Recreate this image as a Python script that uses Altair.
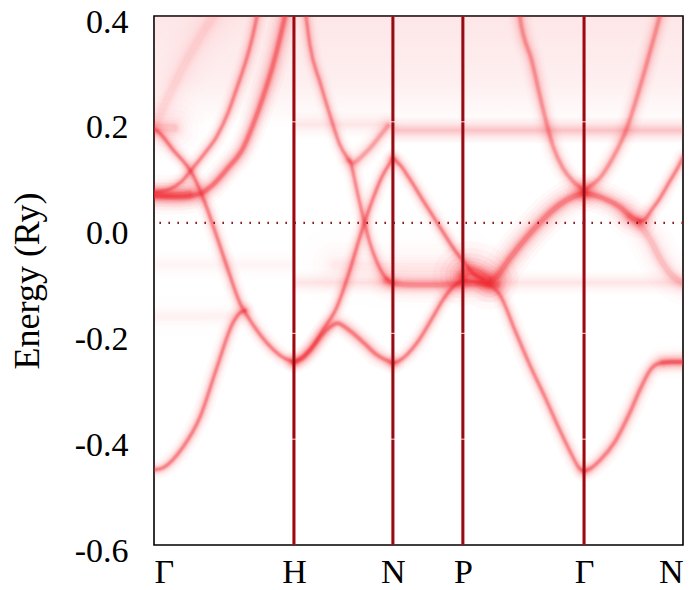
import altair as alt
import pandas as pd

# ---- path through the bcc Brillouin zone (k in units of 2*pi/a) ----
sym_names = ["Γ", "H", "N", "P", "Γ", "N"]
sym_k = [0.0, 1.0, 1.7071, 2.2071, 3.0731, 3.7802]

energy_ticks = [-0.6, -0.4, -0.2, 0.0, 0.2, 0.4]
e_fermi = 0.009

# ---- ridges of the Bloch spectral function: k points and energies (Ry) ----
# Gamma-H
gh_low_k = [0.0, 0.064, 0.207, 0.329, 0.45, 0.564, 0.614, 0.65]
gh_low_e = [-0.458, -0.454, -0.415, -0.358, -0.264, -0.180, -0.161, -0.157]
gh_down_k = [0.0, 0.021, 0.136, 0.279, 0.364, 0.45, 0.529, 0.614, 0.686, 0.807, 0.921, 1.0]
gh_down_e = [0.186, 0.183, 0.147, 0.099, 0.047, -0.018, -0.080, -0.1425, -0.175, -0.218, -0.245, -0.254]
gh_outer_k = [0.0, 0.114, 0.200, 0.279, 0.364, 0.450, 0.529, 0.600, 0.664, 0.707, 0.736, 0.76]
gh_outer_e = [0.067, 0.073, 0.088, 0.113, 0.141, 0.173, 0.217, 0.270, 0.321, 0.364, 0.400, 0.43]
gh_inner_k = [0.0, 0.186, 0.329, 0.421, 0.529, 0.636, 0.707, 0.779, 0.850, 0.900, 0.936, 0.96]
gh_inner_e = [0.060, 0.058, 0.064, 0.081, 0.113, 0.150, 0.194, 0.247, 0.307, 0.358, 0.400, 0.43]
gh_flat_k = [0.0, 0.12, 0.25]
gh_flat_e = [0.063, 0.062, 0.064]
gh_faint_k = [0.0, 0.08, 0.20, 0.33, 0.45]
gh_faint_e = [0.19, 0.235, 0.30, 0.36, 0.41]

# H-N
hn_bump_k = [1.0, 1.057, 1.114, 1.2, 1.257, 1.31, 1.4, 1.5, 1.59, 1.7071]
hn_bump_e = [-0.254, -0.248, -0.233, -0.203, -0.188, -0.181, -0.195, -0.218, -0.240, -0.256]
hn_up_k = [1.0, 1.079, 1.15, 1.207, 1.307, 1.4, 1.471, 1.543, 1.629, 1.7071]
hn_up_e = [-0.254, -0.240, -0.218, -0.194, -0.150, -0.080, -0.018, 0.039, 0.096, 0.130]
hn_desc_k = [1.07, 1.086, 1.114, 1.186, 1.257, 1.329, 1.386, 1.407, 1.43, 1.457, 1.50, 1.543, 1.593, 1.65, 1.7071]
hn_desc_e = [0.43, 0.40, 0.345, 0.275, 0.213, 0.156, 0.130, 0.122, 0.095, 0.062, 0.014, -0.029, -0.065, -0.093, -0.105]
hn_cup_k = [1.395, 1.42, 1.45, 1.49, 1.543, 1.614, 1.671]
hn_cup_e = [0.126, 0.122, 0.126, 0.136, 0.150, 0.173, 0.192]

# N-P
np_up_k = [1.7071, 1.75, 1.879, 1.993, 2.064, 2.136, 2.2071]
np_up_e = [-0.256, -0.252, -0.218, -0.169, -0.137, -0.112, -0.100]
np_down_k = [1.7071, 1.76, 1.82, 1.921, 2.043, 2.164, 2.2071, 2.279, 2.35]
np_down_e = [0.130, 0.118, 0.095, 0.052, 0.001, -0.048, -0.062, -0.086, -0.098]
np_flat_k = [1.66, 1.7071, 1.85, 2.0, 2.2071, 2.33, 2.45]
np_flat_e = [-0.100, -0.105, -0.108, -0.108, -0.106, -0.106, -0.108]
p_blob_k = [2.2071, 2.26, 2.32, 2.39]
p_blob_e = [-0.090, -0.082, -0.086, -0.098]

# P-Gamma
pg_down_k = [2.2071, 2.33, 2.42, 2.471, 2.579, 2.686, 2.793, 2.9, 2.986, 3.04, 3.0731]
pg_down_e = [-0.100, -0.104, -0.112, -0.127, -0.194, -0.260, -0.320, -0.383, -0.430, -0.455, -0.460]
pg_thick_k = [2.40, 2.45, 2.543, 2.664, 2.757, 2.85, 2.93, 2.993, 3.0731]
pg_thick_e = [-0.104, -0.092, -0.058, -0.018, 0.009, 0.033, 0.049, 0.058, 0.065]
pg_arm_k = [2.60, 2.614, 2.70, 2.779, 2.85, 2.921, 2.993, 3.0731]
pg_arm_e = [0.43, 0.40, 0.315, 0.225, 0.155, 0.113, 0.088, 0.071]

# Gamma-N
gn_up_k = [3.0731, 3.12, 3.186, 3.293, 3.40, 3.48, 3.55, 3.62, 3.70, 3.7802]
gn_up_e = [-0.460, -0.455, -0.440, -0.405, -0.350, -0.302, -0.268, -0.256, -0.254, -0.254]
gn_shoulder_k = [3.64, 3.70, 3.7802]
gn_shoulder_e = [-0.255, -0.254, -0.254]
gn_thick_k = [3.0731, 3.15, 3.207, 3.329, 3.421, 3.47]
gn_thick_e = [0.065, 0.061, 0.056, 0.039, 0.018, 0.012]
gn_rise_k = [3.47, 3.50, 3.56, 3.614, 3.68, 3.74, 3.7802]
gn_rise_e = [0.012, 0.014, 0.035, 0.055, 0.085, 0.112, 0.132]
gn_faint_k = [3.40, 3.47, 3.55, 3.614, 3.70, 3.7802]
gn_faint_e = [0.020, 0.005, -0.025, -0.058, -0.090, -0.105]
gn_arm_k = [3.0731, 3.15, 3.186, 3.279, 3.379, 3.471, 3.564, 3.614, 3.64]
gn_arm_e = [0.071, 0.085, 0.094, 0.132, 0.188, 0.264, 0.351, 0.400, 0.43]

# ---- short smeared features ----
flat_g_k = [0.0, 0.14]
flat_g_e = [0.19, 0.188]
gh_haze2_k = [0.0, 0.3, 0.55]
gh_haze2_e = [-0.168, -0.168, -0.166]
hp_haze_k = [1.3, 1.75, 2.2071]
hp_haze_e = [-0.072, -0.075, -0.075]

# ---- flat incoherent bands between symmetry lines: k range, energy range, weight ----
slab_k1 = [1.0, 1.7071, 1.0, 0.0]
slab_k2 = [1.7071, 3.7802, 3.7802, 1.0]
slab_e1 = [0.168, 0.158, -0.128, -0.10]
slab_e2 = [0.222, 0.210, -0.080, -0.04]
slab_w = [0.12, 0.30, 0.13, 0.05]

# upper-energy background
top_k1, top_k2, top_e1, top_e2, top_w = [0.0], [3.7802], [0.19], [0.40], [0.12]

ridges = {
    "gh_low": (gh_low_k, gh_low_e), "gh_down": (gh_down_k, gh_down_e),
    "gh_outer": (gh_outer_k, gh_outer_e), "gh_inner": (gh_inner_k, gh_inner_e),
    "gh_flat": (gh_flat_k, gh_flat_e), "gh_faint": (gh_faint_k, gh_faint_e),
    "hn_bump": (hn_bump_k, hn_bump_e), "hn_up": (hn_up_k, hn_up_e),
    "hn_desc": (hn_desc_k, hn_desc_e), "hn_cup": (hn_cup_k, hn_cup_e),
    "np_up": (np_up_k, np_up_e), "np_down": (np_down_k, np_down_e),
    "np_flat": (np_flat_k, np_flat_e), "p_blob": (p_blob_k, p_blob_e),
    "pg_down": (pg_down_k, pg_down_e), "pg_thick": (pg_thick_k, pg_thick_e),
    "pg_arm": (pg_arm_k, pg_arm_e),
    "gn_up": (gn_up_k, gn_up_e), "gn_shoulder": (gn_shoulder_k, gn_shoulder_e),
    "gn_thick": (gn_thick_k, gn_thick_e),
    "gn_rise": (gn_rise_k, gn_rise_e), "gn_faint": (gn_faint_k, gn_faint_e),
    "gn_arm": (gn_arm_k, gn_arm_e),
    "flat_g": (flat_g_k, flat_g_e), "gh_haze2": (gh_haze2_k, gh_haze2_e),
    "hp_haze": (hp_haze_k, hp_haze_e),
}

# drawing style per ridge: (intensity, broadening)
ridge_style = {
    "gh_low": (0.8, 1.0), "gh_down": (0.8, 1.0), "gh_outer": (0.75, 1.0),
    "gh_inner": (0.95, 1.4), "gh_flat": (0.8, 2.0), "gh_faint": (0.15, 3.0),
    "hn_bump": (0.85, 1.15), "hn_up": (0.8, 1.0), "hn_desc": (0.7, 1.0),
    "hn_cup": (0.55, 1.3),
    "np_up": (0.8, 1.0), "np_down": (0.8, 1.0), "np_flat": (0.6, 1.8),
    "p_blob": (0.9, 3.0),
    "pg_down": (0.75, 1.0), "pg_thick": (0.85, 1.9), "pg_arm": (0.65, 1.2),
    "gn_up": (0.8, 1.1), "gn_shoulder": (0.5, 1.6), "gn_thick": (0.85, 1.7),
    "gn_rise": (0.75, 1.0), "gn_faint": (0.35, 2.2), "gn_arm": (0.65, 1.2),
    "flat_g": (0.3, 3.2), "gh_haze2": (0.06, 2.5), "hp_haze": (0.1, 4.0),
}

# concentric strokes that build up a soft, Lorentzian-looking ridge
blur_width = [20, 15.5, 12, 9, 6.8, 5, 3.6, 2.3]
blur_alpha = [0.03, 0.04, 0.06, 0.08, 0.11, 0.15, 0.2, 0.28]

RED = "#f2262e"
SERIF = "Liberation Serif"

rows = []
for name, (ks, es) in ridges.items():
    strength, spread = ridge_style[name]
    for lvl, (w, a) in enumerate(zip(blur_width, blur_alpha)):
        for i, (k, e) in enumerate(zip(ks, es)):
            rows.append({"series": f"{name}-{lvl}", "order": i, "k": k, "E": e,
                         "w": w * spread, "a": min(1.0, a * strength)})
ridge_df = pd.DataFrame(rows)

top_df = pd.DataFrame({"k1": top_k1, "k2": top_k2, "e1": top_e1, "e2": top_e2, "w": top_w})
slab_df = pd.DataFrame({"k1": slab_k1, "k2": slab_k2, "e1": slab_e1, "e2": slab_e2, "w": slab_w})

xscale = alt.Scale(domain=[sym_k[0], sym_k[-1]], nice=False, zero=False)
yscale = alt.Scale(domain=[energy_ticks[0], energy_ticks[-1]], nice=False, zero=False)

# tick label lookup for the high-symmetry points
parts = []
for i in range(len(sym_k) - 1):
    mid = (sym_k[i] + sym_k[i + 1]) / 2
    parts.append(f"datum.value < {mid:.4f} ? '{sym_names[i]}'")
x_label_expr = " : ".join(parts) + f" : '{sym_names[-1]}'"

xaxis = alt.Axis(values=sym_k, labelExpr=x_label_expr, title=None, ticks=False,
                 domain=False, grid=False, labelFont=SERIF, labelFontSize=34,
                 labelColor="black", labelPadding=10, labelAngle=0)
yaxis = alt.Axis(values=energy_ticks,
                 labelExpr="(datum.value < 0 ? '-' : '') + format(abs(datum.value), '.1f')",
                 title="Energy (Ry)", titleFont=SERIF, titleFontSize=36,
                 titleFontWeight="normal", titleColor="black", titleX=-127,
                 titleY=264.5, titleAlign="center", titleBaseline="middle", titleAngle=270,
                 ticks=False, domain=False, grid=False, labelFont=SERIF,
                 labelFontSize=34, labelColor="black", labelPadding=26, labelOffset=6)

C = "240,50,60"
fade_grad = alt.Gradient(
    gradient="linear", x1=0, x2=0, y1=0, y2=1,
    stops=[alt.GradientStop(offset=0, color=f"rgba({C},1)"),
           alt.GradientStop(offset=0.6, color=f"rgba({C},0.65)"),
           alt.GradientStop(offset=1, color=f"rgba({C},0)")])
band_grad = alt.Gradient(
    gradient="linear", x1=0, x2=0, y1=0, y2=1,
    stops=[alt.GradientStop(offset=0, color=f"rgba({C},0)"),
           alt.GradientStop(offset=0.25, color=f"rgba({C},0.35)"),
           alt.GradientStop(offset=0.5, color=f"rgba({C},1)"),
           alt.GradientStop(offset=0.75, color=f"rgba({C},0.35)"),
           alt.GradientStop(offset=1, color=f"rgba({C},0)")])

top_haze = alt.Chart(top_df).mark_rect(fill=fade_grad, clip=True).encode(
    x=alt.X("k1:Q", scale=xscale, axis=xaxis), x2="k2:Q",
    y=alt.Y("e2:Q", scale=yscale, axis=yaxis), y2="e1:Q",
    opacity=alt.Opacity("w:Q", scale=None, legend=None))

slabs = alt.Chart(slab_df).mark_rect(fill=band_grad, clip=True).encode(
    x=alt.X("k1:Q", scale=xscale), x2="k2:Q",
    y=alt.Y("e2:Q", scale=yscale), y2="e1:Q",
    opacity=alt.Opacity("w:Q", scale=None, legend=None))

ridge_lines = alt.Chart(ridge_df).mark_line(
    color=RED, interpolate="monotone", strokeCap="round", strokeJoin="round", clip=True
).encode(
    x=alt.X("k:Q", scale=xscale), y=alt.Y("E:Q", scale=yscale),
    detail="series:N", order="order:Q",
    size=alt.Size("w:Q", scale=None, legend=None),
    opacity=alt.Opacity("a:Q", scale=None, legend=None))

sym_df = pd.DataFrame({"k": sym_k[1:-1]})
sym_glow = alt.Chart(sym_df).mark_rule(color="#c8141e", strokeWidth=3.2).encode(
    x=alt.X("k:Q", scale=xscale))
sym_core = alt.Chart(sym_df).mark_rule(color="#7c1016", strokeWidth=1.6).encode(
    x=alt.X("k:Q", scale=xscale))

# small white tick marks where the energy grid crosses the symmetry lines
tick_df = pd.DataFrame([{"k": k, "E": e} for k in sym_k[1:-1] for e in energy_ticks[1:-1] if e != 0.0])
sym_ticks = alt.Chart(tick_df).mark_tick(orient="horizontal", color="white", size=5, thickness=1.2).encode(
    x=alt.X("k:Q", scale=xscale), y=alt.Y("E:Q", scale=yscale))

fermi_df = pd.DataFrame({"E": [e_fermi]})
fermi = alt.Chart(fermi_df).mark_rule(color="#8a1a20", strokeWidth=2.4, strokeDash=[1.6, 7.4]).encode(
    y=alt.Y("E:Q", scale=yscale))

chart = alt.layer(top_haze, slabs, ridge_lines, sym_glow, sym_core, sym_ticks, fermi).properties(
    width=529, height=529,
    autosize=alt.AutoSizeParams(type="none"),
    padding={"left": 154, "top": 16, "right": 13, "bottom": 45},
    background="white",
).configure_view(stroke="black", strokeWidth=1.6)

chart.save("out.html", embed_options={"renderer": "svg", "actions": False})
